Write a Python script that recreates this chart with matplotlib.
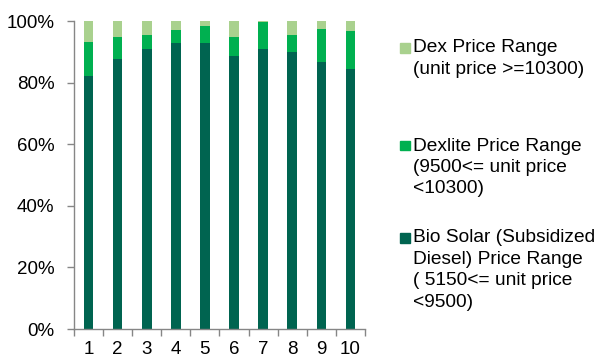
import matplotlib
matplotlib.use("Agg")
import matplotlib.pyplot as plt
from matplotlib.patches import Rectangle
import numpy as np

plt.rcParams['font.family'] = ['Liberation Sans', 'DejaVu Sans']

categories = ['1', '2', '3', '4', '5', '6', '7', '8', '9', '10']
bio_solar = [82.2, 87.8, 91.0, 93.0, 93.0, 88.5, 91.0, 89.8, 86.6, 84.3]
dexlite = [11.1, 7.1, 4.6, 4.2, 5.5, 6.4, 8.6, 5.8, 10.9, 12.6]
dex = [6.7, 5.1, 4.4, 2.8, 1.5, 5.1, 0.4, 4.4, 2.5, 3.1]

labels = ['Bio Solar (Subsidized\nDiesel) Price Range\n( 5150<= unit price\n<9500)',
          'Dexlite Price Range\n(9500<= unit price\n<10300)',
          'Dex Price Range\n(unit price >=10300)']
colors = ['#006450', '#00B050', '#A9D18E']

fig = plt.figure(figsize=(6.0, 3.58), dpi=100)
ax = fig.add_axes([74/600, 1-329/358, (365-74)/600, (329-21)/358])

x = np.arange(1, len(categories)+1)
w = 0.33
bottom = np.zeros(len(categories))
for vals, c in zip([bio_solar, dexlite, dex], colors):
    ax.bar(x, vals, w, bottom=bottom, color=c, edgecolor='none')
    bottom += np.array(vals)

ax.set_xlim(0.5, 10.5)
ax.set_ylim(0, 100)
ax.set_yticks(range(0, 101, 20))
ax.set_yticklabels([f'{v}%' for v in range(0, 101, 20)])
ax.set_xticks(x)
ax.set_xticklabels(categories)
ax.set_xticks(np.arange(0.5, 11, 1), minor=True)
ax.tick_params(axis='x', which='major', length=0, pad=9, labelsize=13.5)
ax.tick_params(axis='x', which='minor', length=5, color='#868686', width=1)
ax.tick_params(axis='y', length=5, color='#868686', width=1, labelsize=13.5, pad=9)
for s in ['top', 'right']:
    ax.spines[s].set_visible(False)
for s in ['left', 'bottom']:
    ax.spines[s].set_color('#868686')
    ax.spines[s].set_linewidth(1)

# legend (manual, top to bottom: Dex, Dexlite, Bio Solar)
leg_items = [(2, 43), (1, 141), (0, 233)]
for idx, ytop in leg_items:
    fig.patches.append(Rectangle((400/600, 1-(ytop+9.5)/358), 9.5/600, 9.5/358,
                                 transform=fig.transFigure, color=colors[idx]))
    fig.text(413/600, 1-(ytop-3.5)/358, labels[idx], ha='left', va='top',
             fontsize=13.8, linespacing=1.34, color='#000000')

fig.savefig('out.png', dpi=100)
